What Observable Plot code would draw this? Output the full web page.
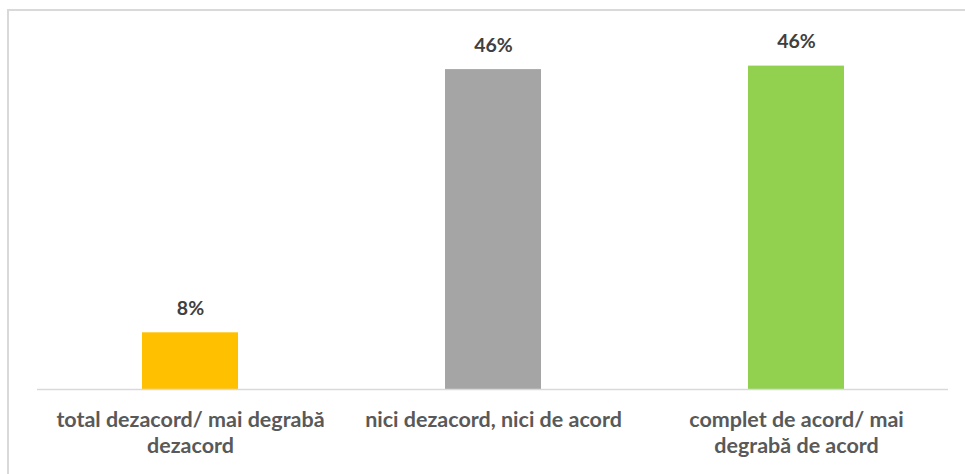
<!DOCTYPE html>
<html>
<head>
<meta charset="utf-8">
<script src="https://cdn.jsdelivr.net/npm/d3@7"></script>
<script src="https://cdn.jsdelivr.net/npm/@observablehq/plot@0.6"></script>
<style>
  html, body { margin: 0; padding: 0; background: #fff; }
  #wrap { position: relative; width: 965px; height: 474px; overflow: hidden; }
  #border { position: absolute; left: 7px; top: 9px; width: 980px; height: 480px;
            border-top: 2px solid #d9d9d9; border-left: 2px solid #d9d9d9; box-sizing: border-box; pointer-events: none; }
  svg { display: block; }
</style>
</head>
<body>
<div id="wrap"><div id="border"></div><div id="chart"></div></div>
<script>
const categories = ["total dezacord/ mai degrabă\ndezacord", "nici dezacord, nici de acord", "complet de acord/ mai\ndegrabă de acord"];
const values = [8.1, 45.7, 46.2];
const labels = ["8%", "46%", "46%"];
const colors = ["#FFC000", "#A5A5A5", "#92D050"];

const data = categories.map((c, i) => ({cat: c, value: values[i], label: labels[i], color: colors[i]}));

const chart = Plot.plot({
  width: 965,
  height: 474,
  marginLeft: 37,
  marginRight: 17,
  marginTop: 39,
  marginBottom: 85,
  style: {fontFamily: "Lato, 'Open Sans', sans-serif", background: "transparent"},
  x: {domain: categories, paddingInner: 0.684, paddingOuter: 0.342, axis: null},
  y: {domain: [0, 50], axis: null},
  marks: [
    Plot.barY(data, {x: "cat", y: "value", fill: "color"}),
    Plot.ruleY([0], {stroke: "#d9d9d9", strokeWidth: 1.5}),
    Plot.text(data, {x: "cat", y: "value", text: "label", dy: -18, lineAnchor: "bottom", fontSize: 19.5, fontWeight: "bold", fill: "#404040"}),
    Plot.text(data, {x: "cat", text: "cat", frameAnchor: "bottom", lineAnchor: "top", dy: 19.5, lineHeight: 1.21, fontSize: 21.5, fontWeight: "bold", fill: "#595959"})
  ]
});
document.getElementById("chart").appendChild(chart);
</script>
</body>
</html>
